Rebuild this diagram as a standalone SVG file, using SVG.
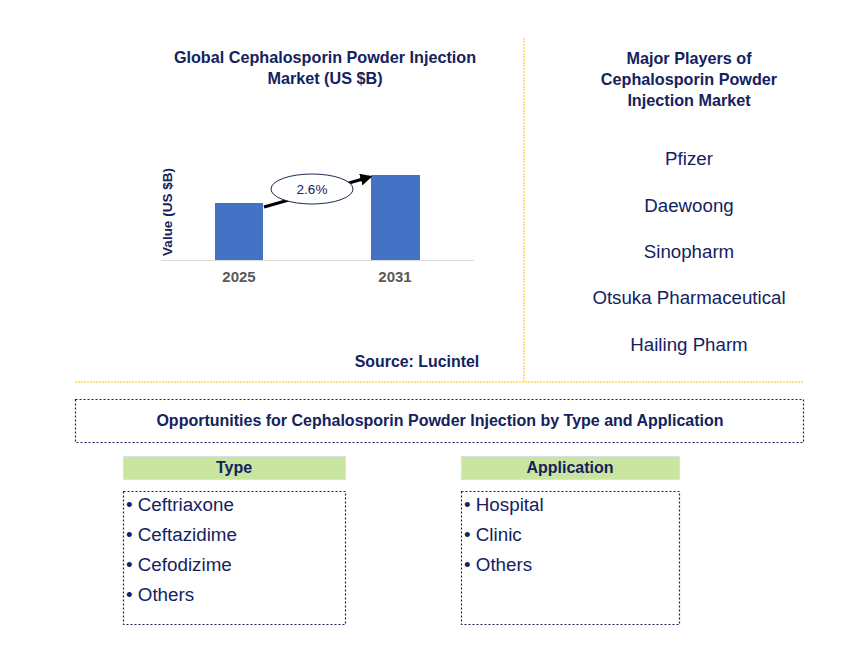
<svg xmlns="http://www.w3.org/2000/svg" width="868" height="661" viewBox="0 0 868 661">
<style>
text{font-family:"Liberation Sans",Arial,sans-serif;fill:#14225e}
.b{font-weight:bold}
.t{font-size:16.2px;font-weight:bold;text-anchor:middle}
.p{font-size:18.7px;text-anchor:middle}
.li{font-size:18.8px}
.sep{stroke:#FFC000;stroke-width:1;stroke-dasharray:2,1;fill:none}
.dot{fill:none;stroke:#14225e;stroke-width:1.2;stroke-dasharray:2,2}
.hdr{fill:#c9e5a0;stroke:#cfe3f0;stroke-width:1}
.bar{fill:#4472c4}
</style>
<defs>
<marker id="ah" viewBox="0 0 10 10" refX="8" refY="5" markerWidth="4" markerHeight="4" orient="auto">
<path d="M0,0 L10,5 L0,10 z" fill="#000"/>
</marker>
</defs>
<rect width="868" height="661" fill="#fff"/>
<g id="separators">
<line class="sep" x1="524" y1="38" x2="524" y2="381"/>
<line class="sep" x1="75" y1="382" x2="803" y2="382"/>
</g>
<g id="chart">
<text class="t" x="325" y="63">Global Cephalosporin Powder Injection</text>
<text class="t" x="325" y="84">Market (US $B)</text>
<text class="b" x="0" y="0" font-size="13.5" text-anchor="middle" transform="translate(172,212) rotate(-90)">Value (US $B)</text>
<rect class="bar" x="215" y="203" width="48" height="57"/>
<rect class="bar" x="371" y="175" width="49" height="85"/>
<line x1="161" y1="260.5" x2="474" y2="260.5" stroke="#d9d9d9" stroke-width="1.2"/>
<text class="b" x="239" y="282" font-size="15" text-anchor="middle" style="fill:#595959">2025</text>
<text class="b" x="395" y="282" font-size="15" text-anchor="middle" style="fill:#595959">2031</text>
<text class="b" x="417" y="367" font-size="15.9" text-anchor="middle">Source: Lucintel</text>
</g>
<g id="connectors">
<line x1="264" y1="207" x2="370" y2="177" stroke="#000" stroke-width="3" marker-end="url(#ah)"/>
</g>
<g id="cagr">
<ellipse cx="312" cy="189" rx="41" ry="15" fill="#fff" stroke="#1f2a50" stroke-width="1"/>
<text x="312" y="194" font-size="13.5" text-anchor="middle">2.6%</text>
</g>
<g id="players">
<text class="t" x="689" y="64">Major Players of</text>
<text class="t" x="689" y="85">Cephalosporin Powder</text>
<text class="t" x="689" y="106">Injection Market</text>
<text class="p" x="689" y="165">Pfizer</text>
<text class="p" x="689" y="212">Daewoong</text>
<text class="p" x="689" y="258">Sinopharm</text>
<text class="p" x="689" y="304">Otsuka Pharmaceutical</text>
<text class="p" x="689" y="351">Hailing Pharm</text>
</g>
<g id="opportunities">
<rect class="dot" x="75.5" y="399.5" width="728" height="43"/>
<text class="b" x="440" y="426" font-size="16" text-anchor="middle">Opportunities for Cephalosporin Powder Injection by Type and Application</text>
</g>
<g id="type">
<rect class="hdr" x="123.5" y="456.5" width="222" height="23"/>
<text class="b" x="234" y="473" font-size="16" text-anchor="middle">Type</text>
<rect class="dot" x="123.5" y="491.5" width="222" height="133"/>
<text class="li" x="126" y="511">• Ceftriaxone</text>
<text class="li" x="126" y="541">• Ceftazidime</text>
<text class="li" x="126" y="571">• Cefodizime</text>
<text class="li" x="126" y="601">• Others</text>
</g>
<g id="application">
<rect class="hdr" x="461.5" y="456.5" width="218" height="23"/>
<text class="b" x="570" y="473" font-size="16" text-anchor="middle">Application</text>
<rect class="dot" x="461.5" y="491.5" width="218" height="133"/>
<text class="li" x="464" y="511">• Hospital</text>
<text class="li" x="464" y="541">• Clinic</text>
<text class="li" x="464" y="571">• Others</text>
</g>
</svg>
